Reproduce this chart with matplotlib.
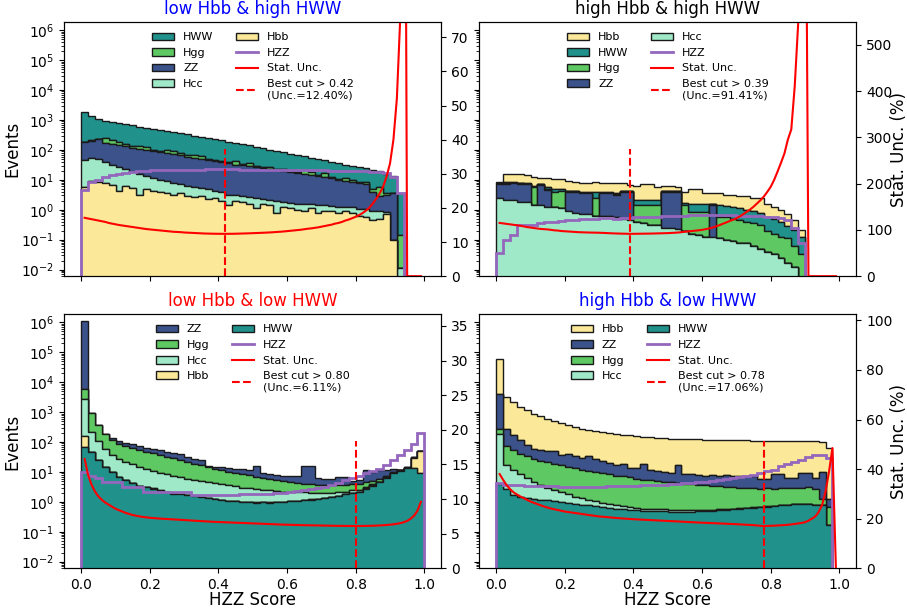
import numpy as np
import matplotlib.pyplot as plt
from matplotlib.ticker import LogLocator

# 50 score bins and the cut scan points
edges = np.linspace(0, 1, 51)
centers = 0.5 * (edges[:-1] + edges[1:])
cuts = np.round(np.arange(1, 100) * 0.01, 2)

colors = {
    'HWW': '#21918c',
    'Hgg': '#5ec962',
    'ZZ': '#3b528b',
    'Hcc': '#9fe9c8',
    'Hbb': '#fbe898',
}

# ---------------- low Hbb & high HWW ----------------
lh_hbb = [5.9, 9.3, 8.5, 7.6, 6.6, 4.2, 6.3, 5.2, 3.2, 5.0,
          4.2, 4.0, 3.5, 3.2, 3.5, 2.8, 2.6, 2.8, 2.2, 2.4,
          2.0, 1.4, 2.0, 1.8, 1.6, 1.1, 1.6, 1.4, 0.8, 1.26,
          1.12, 1.0, 0.9, 1.1, 0.8, 0.9, 0.9, 0.8, 0.9, 0.8,
          0.63, 0.56, 0.45, 0.5, 0.7, 0.1, 0, 0, 0, 0]
lh_hcc = [41, 46, 41, 32, 25, 22, 16, 12.6, 12.6, 8.2,
          7, 6, 5.4, 4.7, 3.6, 3.5, 3.0, 2.4, 2.6, 1.8,
          1.8, 1.8, 1.2, 1.0, 1.0, 1.3, 0.6, 0.7, 1.1, 0.5,
          0.54, 0.6, 0.65, 0.4, 0.6, 0.5, 0.4, 0.45, 0.3, 0.4,
          0.45, 0.5, 0.45, 0.4, 0.15, 0, 0.011, 0, 0, 0]
lh_zz = [135, 149, 174, 126, 126, 115, 110, 102, 91, 87,
         82, 75, 69, 63, 58, 53, 47, 43, 40, 37.5,
         35, 33, 28.4, 28.8, 26.2, 24.5, 22.9, 21.3, 20, 18.6,
         16.9, 15.8, 14.6, 13.3, 12.4, 11.2, 9.9, 8.75, 7.7, 7.3,
         6.8, 6.35, 3.1, 1.9, 2.35, 3.4, 0, 0, 0, 0]
lh_hgg = [0, 9.6, 16, 85, 65, 45, 27, 15, 28, 26,
          4.4, 6.1, 20, 18, 13, 8.7, 13.6, 15.3, 3.2, 4.0,
          4.7, 2.6, 10, 3.0, 7.5, 1.9, 2.4, 2.9, 1.6, 2.0,
          2.3, 1.25, 5.2, 3.8, 1.0, 4.0, 0.8, 0.96, 2.8, 1.7,
          0.57, 0.9, 1.0, 2.8, 0.4, 0, 0.13, 0, 0, 0]
lh_hww = [1638, 1104, 882, 704, 648, 608, 565, 526, 468, 424,
          404, 366, 329, 300, 277, 263, 236, 212, 203, 183,
          165, 152, 132, 120, 105, 97, 87, 76, 69.5, 61,
          55, 49, 40.6, 36.4, 35, 28.4, 28, 25, 20.3, 19.3,
          17.8, 15.7, 16.4, 13.9, 12.2, 10, 3.55, 0, 0, 0]
lh_hzz = [4.4, 8.7, 10, 12.6, 15, 16, 17.5, 18.5, 19.5, 20,
          20.5, 21, 21, 21.5, 21.5, 22, 22, 22, 22.5, 22.5,
          22.5, 22.5, 22.5, 22, 22, 22, 22, 22, 21.5, 21.5,
          21.5, 21, 21, 21, 20.5, 20.5, 20, 20, 19.5, 19.5,
          19, 19, 18.5, 18, 17.5, 12, 3.7, 0, 0, 0]
lh_unc = [17.1, 16.9, 16.7, 16.5, 16.3, 16.1, 15.9, 15.6, 15.4, 15.2,
          15.0, 14.85, 14.7, 14.55, 14.4, 14.25, 14.1, 13.95, 13.8, 13.7,
          13.6, 13.5, 13.4, 13.3, 13.2, 13.1, 13.0, 12.95, 12.9, 12.8,
          12.75, 12.7, 12.65, 12.6, 12.55, 12.5, 12.48, 12.45, 12.43, 12.42,
          12.41, 12.40, 12.41, 12.42, 12.44, 12.47, 12.5, 12.53, 12.56, 12.6,
          12.64, 12.68, 12.72, 12.77, 12.82, 12.88, 12.95, 13.02, 13.1, 13.2,
          13.3, 13.4, 13.5, 13.6, 13.75, 13.9, 14.0, 14.15, 14.3, 14.5,
          14.7, 14.9, 15.1, 15.4, 15.6, 15.9, 16.3, 16.6, 17.0, 17.4,
          17.9, 18.5, 19.2, 20.1, 21.3, 22.7, 24.3, 26.2, 29.2, 33.0,
          40.0, 52.0, 76.0, 250.0, 0, 0, 0, 0, 0]

# ---------------- high Hbb & high HWW ----------------
hh_hcc = [2.4, 2.14, 2.14, 1.86, 1.78, 1.45, 1.45, 1.26, 1.26, 1.12,
          0.89, 0.79, 0.71, 0.71, 0.63, 0.63, 0.6, 0.56, 0.5, 0.45,
          0.4, 0.355, 0.316, 0.3, 0.25, 0.24, 0.224, 0.2, 0.158, 0.141,
          0.126, 0.12, 0.112, 0.1, 0.089, 0.079, 0.079, 0.063, 0.05, 0.04,
          0.032, 0.025, 0.016, 0.0126, 0.005, 0, 0, 0, 0, 0]
hh_zz = [4.7, 5.3, 5.45, 5.4, 5.3, 0, 5.3, 3.3, 0, 0,
         3.1, 3.2, 2.85, 2.85, 0, 2.9, 2.95, 2.6, 3.5, 3.5,
         0, 0, 0, 0, 3.7, 3.75, 3.75, 0, 0, 0,
         0, 1.33, 0, 0, 0, 0, 0, 0, 0, 0,
         0, 0, 0, 0, 0, 0, 0, 0, 0, 0]
hh_hgg = [0.33, 0.35, 0.36, 0.34, 0.33, 4.45, 0.32, 0.21, 2.7, 3.05,
          0.19, 0.19, 0.17, 0.17, 1.77, 0.17, 0.17, 0.15, 0.19, 0.19,
          1.05, 1.1, 1.13, 1.15, 0.19, 0.19, 0.19, 1.25, 0.69, 0.71,
          0.72, 0.07, 0.45, 0.46, 0.41, 0.37, 0.32, 0.29, 0.27, 0.16,
          0.126, 0.1, 0.096, 0.05, 0.027, 0, 0, 0, 0, 0]
hh_hww = [0.53, 0.56, 0.37, 0.36, 0.18, 0.41, 0.16, 0.84, 0.81, 0.84,
          0.2, 0.1, 0.26, 0.26, 1.4, 0.2, 0.2, 0.24, 0.15, 0.15,
          0.69, 0.69, 0.64, 0.64, 0.1, 0.1, 0.1, 0.21, 0.73, 0.73,
          0.66, 0.06, 0.85, 0.76, 0.7, 0.67, 0.6, 0.54, 0.47, 0.36,
          0.32, 0.27, 0.17, 0.14, 0.09, 0, 0, 0, 0, 0]
hh_hbb = [0.76, 7.5, 7.5, 7.9, 6.9, 6.3, 4.0, 5.6, 5.7, 5.5,
          4.9, 4.4, 3.9, 3.9, 4.9, 3.7, 3.7, 4.05, 3.3, 2.5,
          3.9, 5.1, 5.1, 3.8, 2.0, 1.7, 1.7, 2.3, 3.2, 3.2,
          2.0, 2.0, 2.1, 1.85, 1.95, 1.7, 1.8, 1.5, 1.6, 1.0,
          0.78, 0.6, 0.43, 0.25, 0.09, 0, 0, 0, 0, 0]
hh_hzz = [0.035, 0.1, 0.14, 0.3, 0.3, 0.32, 0.35, 0.38, 0.4, 0.42,
          0.44, 0.46, 0.48, 0.5, 0.5, 0.52, 0.52, 0.5, 0.52, 0.54,
          0.55, 0.55, 0.56, 0.58, 0.6, 0.62, 0.63, 0.64, 0.65, 0.65,
          0.66, 0.66, 0.66, 0.65, 0.65, 0.64, 0.63, 0.62, 0.6, 0.58,
          0.56, 0.52, 0.45, 0.24, 0.08, 0, 0, 0, 0, 0]
hh_unc = [115, 114, 113, 112, 111, 110, 109, 107.5, 106, 105,
          104, 103, 102, 101.5, 101, 100, 99, 98.5, 97.5, 97,
          96.5, 96, 95.5, 95, 94.8, 94.5, 94.3, 94.1, 94, 93.8,
          93.5, 93.2, 92.8, 92.5, 92.2, 92, 91.8, 91.6, 91.41, 91.5,
          91.6, 91.7, 91.8, 91.9, 92, 92.2, 92.4, 92.6, 92.8, 93,
          93.4, 93.8, 94.3, 95, 96, 96.8, 97.5, 98.3, 99.1, 100,
          101.5, 103, 105, 107.5, 110, 113, 116, 119, 122, 125,
          129, 134, 139, 144, 150, 157, 164, 172, 182, 193,
          208, 226, 245, 265, 295, 317, 410, 545, 900, 1200,
          0, 0, 0, 0, 0, 0, 0, 0, 0]

# ---------------- low Hbb & low HWW ----------------
ll_hww = [69, 47, 24.5, 14.8, 10, 6.9, 5.2, 4.2, 3.5, 3.2,
          2.8, 2.4, 2.1, 1.9, 1.8, 1.66, 1.58, 1.41, 1.32, 1.26,
          1.12, 1.07, 1.05, 1.0, 1.0, 0.95, 1.0, 0.95, 1.0, 1.0,
          1.05, 1.07, 1.12, 1.2, 1.26, 1.32, 1.41, 1.58, 1.78, 2.0,
          2.1, 2.8, 3.5, 4.5, 6.3, 8.9, 11.2, 13.2, 13.5, 8.9]
ll_hbb = [89, 0.05, 0.04, 0.04, 0.03, 0.04, 0.03, 0.03, 0.03, 0.02,
          0.03, 0.02, 0.03, 0.02, 0.02, 0.03, 0.02, 0.02, 0.02, 0.03,
          0.02, 0.02, 0.02, 0.02, 0.03, 0.02, 0.02, 0.02, 0.02, 0.02,
          0.02, 0.03, 0.02, 0.02, 0.03, 0.02, 0.03, 0.03, 0.04, 0.04,
          0.05, 0.05, 0.06, 0.07, 0.1, 0.15, 0.3, 0.8, 17, 42]
ll_hcc = [2530, 172, 82, 43, 26, 21, 16.7, 13.6, 11.3, 9.4,
          7.9, 6.9, 6.2, 5.5, 5.0, 4.3, 3.9, 3.6, 3.3, 2.9,
          2.7, 2.5, 2.25, 2.0, 1.8, 1.75, 1.5, 1.45, 1.3, 1.2,
          1.1, 1.0, 0.92, 0.8, 0.74, 0.68, 0.6, 0.5, 0.4, 0.4,
          0.4, 0.3, 0.3, 0.2, 0.15, 0.1, 0.1, 0.05, 0, 0]
ll_hgg = [3200, 736, 265, 124, 84, 61, 54, 48, 41, 35,
          31, 27, 23, 21, 18, 16, 13.5, 11.6, 9.9, 8.4,
          7.4, 6.45, 5.8, 5.3, 4.8, 4.2, 3.8, 3.35, 2.95, 2.6,
          2.35, 2.1, 1.95, 1.8, 1.6, 1.55, 1.55, 1.45, 1.4, 1.4,
          1.5, 1.3, 1.2, 1.0, 0.7, 0.6, 0.5, 0.4, 0.1, 0]
ll_zz = [1090000, 3, 5, 5, 12, 16, 17, 19, 16, 15,
         15.5, 16.5, 15.2, 15.4, 14.8, 9.7, 7.3, 8.5, 1.3, 2.2,
         2.9, 3.2, 3.5, 3.8, 4.4, 8.5, 3.0, 2.55, 2.65, 2.8,
         2.7, 3.0, 11.8, 12, 2.7, 2.45, 2.45, 3.05, 3.0, 1.2,
         1.5, 6.8, 5, 5.45, 4.3, 2.8, 0, 0, 0, 0]
ll_hzz = [10, 7.4, 6.3, 4.7, 4.7, 4.7, 3.2, 3.2, 3.2, 2.2,
          2.1, 2.1, 2.1, 2.1, 2.1, 2.1, 1.75, 1.75, 1.75, 1.75,
          1.75, 1.75, 1.75, 1.8, 1.8, 1.85, 1.85, 1.9, 1.95, 2.0,
          2.2, 2.4, 2.5, 2.7, 3.0, 3.2, 3.6, 4.2, 5.2, 6.3,
          7.2, 9.0, 11, 13, 17, 24.5, 36, 54, 89, 209]
ll_unc = [15.8, 13.5, 12.1, 11.1, 10.4, 9.9, 9.5, 9.2, 8.9, 8.6,
          8.4, 8.2, 8.0, 7.85, 7.7, 7.6, 7.5, 7.42, 7.36, 7.3,
          7.26, 7.22, 7.18, 7.15, 7.12, 7.09, 7.06, 7.03, 7.0, 6.97,
          6.94, 6.91, 6.88, 6.85, 6.82, 6.79, 6.76, 6.73, 6.71, 6.69,
          6.67, 6.65, 6.63, 6.61, 6.59, 6.57, 6.55, 6.53, 6.51, 6.49,
          6.47, 6.45, 6.43, 6.41, 6.39, 6.37, 6.35, 6.33, 6.31, 6.3,
          6.28, 6.27, 6.25, 6.24, 6.23, 6.22, 6.21, 6.2, 6.19, 6.18,
          6.17, 6.16, 6.15, 6.14, 6.13, 6.13, 6.12, 6.12, 6.11, 6.11,
          6.12, 6.12, 6.13, 6.14, 6.15, 6.17, 6.19, 6.22, 6.26, 6.3,
          6.36, 6.43, 6.52, 6.65, 6.85, 7.15, 7.6, 8.3, 9.6]

# ---------------- high Hbb & low HWW ----------------
hl_hww = [3.9, 2.8, 1.66, 1.48, 1.35, 1.29, 1.2, 1.12, 1.05, 1.0,
          0.89, 0.83, 0.79, 0.76, 0.71, 0.68, 0.63, 0.6, 0.58, 0.55,
          0.52, 0.5, 0.5, 0.48, 0.48, 0.47, 0.47, 0.47, 0.47, 0.48,
          0.49, 0.5, 0.52, 0.54, 0.56, 0.59, 0.62, 0.63, 0.66, 0.69,
          0.72, 0.76, 0.79, 0.83, 0.85, 0.87, 0.79, 0.79, 0.17, 0]
hl_hcc = [178, 14.2, 9.8, 6.8, 5.0, 3.4, 2.5, 1.9, 1.45, 1.1,
          0.89, 0.68, 0.53, 0.41, 0.34, 0.27, 0.24, 0.19, 0.16, 0.14,
          0.11, 0.1, 0.1, 0.09, 0.08, 0.08, 0.07, 0.06, 0.06, 0.05,
          0.05, 0.04, 0.04, 0.035, 0.03, 0.03, 0.025, 0.02, 0.02, 0.015,
          0.015, 0.01, 0.01, 0.01, 0.008, 0.006, 0.005, 0.003, 0, 0]
hl_hgg = [100, 57, 42, 33, 28.4, 23.5, 20.3, 17.9, 16.1, 14.5,
          13, 11.7, 10.7, 9.8, 9.0, 8.2, 7.4, 6.8, 6.4, 5.9,
          5.4, 5.0, 4.65, 4.45, 4.1, 3.95, 3.65, 3.45, 3.3, 3.1,
          3.0, 2.85, 2.75, 2.6, 2.55, 2.4, 2.3, 2.25, 2.1, 2.1,
          2.05, 2.1, 2.1, 2.1, 2.15, 2.3, 2.0, 0.5, 0.48, 0]
hl_zz = [3890, 195, 116, 73, 48, 32, 28.5, 29, 31, 21.4,
         25, 20, 18, 24.5, 16.3, 15, 11.7, 10.2, 11.9, 7.5,
         7.2, 12.2, 6.75, 5.5, 5.3, 5.0, 12.8, 4.3, 4.5, 4.3,
         4.05, 4.5, 4.3, 4.7, 4.45, 4.4, 4.25, 4.3, 3.2, 3.2,
         6.1, 5.4, 3.4, 3.35, 5.9, 5.75, 3.5, 8.7, 0.64, 0]
hl_hbb = [57500, 2970, 2020, 1395, 1090, 831, 672, 553, 451, 389,
          323, 283, 252, 221, 208, 190, 180, 168, 155, 152,
          145, 133, 133, 130, 125, 122, 112, 118, 115, 115,
          112, 112, 110, 110, 107, 108, 108, 105, 106, 106,
          103, 104, 104, 104, 101, 98, 101, 90, 60, 0]
hl_hzz = [4.3, 3.6, 3.6, 3.6, 3.4, 3.4, 3.4, 3.4, 3.3, 3.2,
          3.2, 3.2, 3.2, 3.2, 3.2, 3.2, 3.3, 3.4, 3.4, 3.4,
          3.5, 3.6, 3.7, 3.7, 3.8, 3.9, 4.0, 4.2, 4.3, 4.5,
          4.8, 5.0, 5.3, 5.8, 6.3, 6.8, 7.5, 8.2, 9.3, 10.5,
          12, 15.5, 19, 22, 25, 31, 36, 38, 30, 0]
hl_unc = [38, 35.7, 33.6, 32, 30.7, 29.8, 29.0, 28.3, 27.6, 26.9,
          26.4, 25.9, 25.4, 24.9, 24.5, 24.1, 23.8, 23.5, 23.2, 22.9,
          22.7, 22.5, 22.3, 22.1, 21.9, 21.7, 21.5, 21.3, 21.1, 20.9,
          20.8, 20.7, 20.55, 20.45, 20.3, 20.2, 20.1, 20.0, 19.9, 19.8,
          19.73, 19.66, 19.59, 19.52, 19.45, 19.38, 19.31, 19.24, 19.17, 19.1,
          19.03, 18.96, 18.89, 18.82, 18.75, 18.68, 18.61, 18.54, 18.47, 18.4,
          18.34, 18.28, 18.22, 18.16, 18.1, 18.04, 17.98, 17.92, 17.86, 17.8,
          17.72, 17.64, 17.56, 17.48, 17.4, 17.3, 17.15, 17.06, 17.1, 17.15,
          17.2, 17.28, 17.36, 17.45, 17.55, 17.7, 17.9, 18.1, 18.3, 18.6,
          19.2, 20.0, 20.9, 22.8, 25.6, 31.0, 39.0, 48.5, 0]

panels = [
    # title, title colour, stack (bottom -> top), HZZ, unc scan, best cut, best unc
    ('low Hbb & high HWW', 'blue',
     [('Hbb', lh_hbb), ('Hcc', lh_hcc), ('ZZ', lh_zz), ('Hgg', lh_hgg), ('HWW', lh_hww)],
     lh_hzz, lh_unc, 0.42, 12.40),
    ('high Hbb & high HWW', 'black',
     [('Hcc', hh_hcc), ('ZZ', hh_zz), ('Hgg', hh_hgg), ('HWW', hh_hww), ('Hbb', hh_hbb)],
     hh_hzz, hh_unc, 0.39, 91.41),
    ('low Hbb & low HWW', 'red',
     [('HWW', ll_hww), ('Hbb', ll_hbb), ('Hcc', ll_hcc), ('Hgg', ll_hgg), ('ZZ', ll_zz)],
     ll_hzz, ll_unc, 0.80, 6.11),
    ('high Hbb & low HWW', 'blue',
     [('HWW', hl_hww), ('Hcc', hl_hcc), ('Hgg', hl_hgg), ('ZZ', hl_zz), ('Hbb', hl_hbb)],
     hl_hzz, hl_unc, 0.78, 17.06),
]

fig, axes = plt.subplots(2, 2, figsize=(9.07, 6.15), dpi=100, sharex=True, sharey=True)
plt.subplots_adjust(left=0.0706, right=0.9443, top=0.9637, bottom=0.0759,
                    wspace=0.0996, hspace=0.151)

for k, (ax, (title, tcol, stack, hzz, unc, cut, best)) in enumerate(zip(axes.flat, panels)):
    names = [n for n, _ in stack]
    vals = [v for _, v in stack]
    _, _, patches = ax.hist([centers] * len(vals), bins=edges, weights=vals,
                            stacked=True, histtype='stepfilled',
                            color=[colors[n] for n in names],
                            edgecolor='#1a1a1a', linewidth=1.0, label=names)
    hzz_line = ax.stairs(hzz, edges, color='#9467bd', linewidth=2, label='HZZ')
    ax.set_yscale('log')
    ax.set_ylim(6e-3, 1.85e6)
    ax.yaxis.set_major_locator(LogLocator(base=10, numticks=20))
    ax.set_title(title, color=tcol, fontsize=12)
    ax.tick_params(labelsize=10)

    ax2 = ax.twinx()
    cut_label = 'Best cut > %.2f\n(Unc.=%.2f%%)' % (cut, best)
    unc_line, = ax2.plot(cuts, unc, color='red', linewidth=1.5, label='Stat. Unc.')
    cut_line, = ax2.plot([cut, cut], [0, 3 * best], color='red', linestyle='--',
                         linewidth=1.5, label=cut_label)
    ax2.set_ylim(0, 6 * best)
    ax2.tick_params(labelsize=10)

    handles = [patches[i][0] for i in range(len(names) - 1, -1, -1)]
    handles += [hzz_line, unc_line, cut_line]
    labels = names[::-1] + ['HZZ', 'Stat. Unc.', cut_label]
    ax2.legend(handles, labels, ncol=2, loc='upper center', frameon=False, fontsize=8)

    if k % 2 == 0:
        ax.set_ylabel('Events', fontsize=12)
        ax.yaxis.set_label_coords(-0.112, 0.5)
    else:
        ax2.set_ylabel('Stat. Unc. (%)', fontsize=12)
        ax2.yaxis.set_label_coords(1.088, 0.5)
    if k >= 2:
        ax.set_xlabel('HZZ Score', fontsize=12)
        ax.xaxis.set_label_coords(0.5, -0.088)

plt.savefig('out.png', dpi=100)
